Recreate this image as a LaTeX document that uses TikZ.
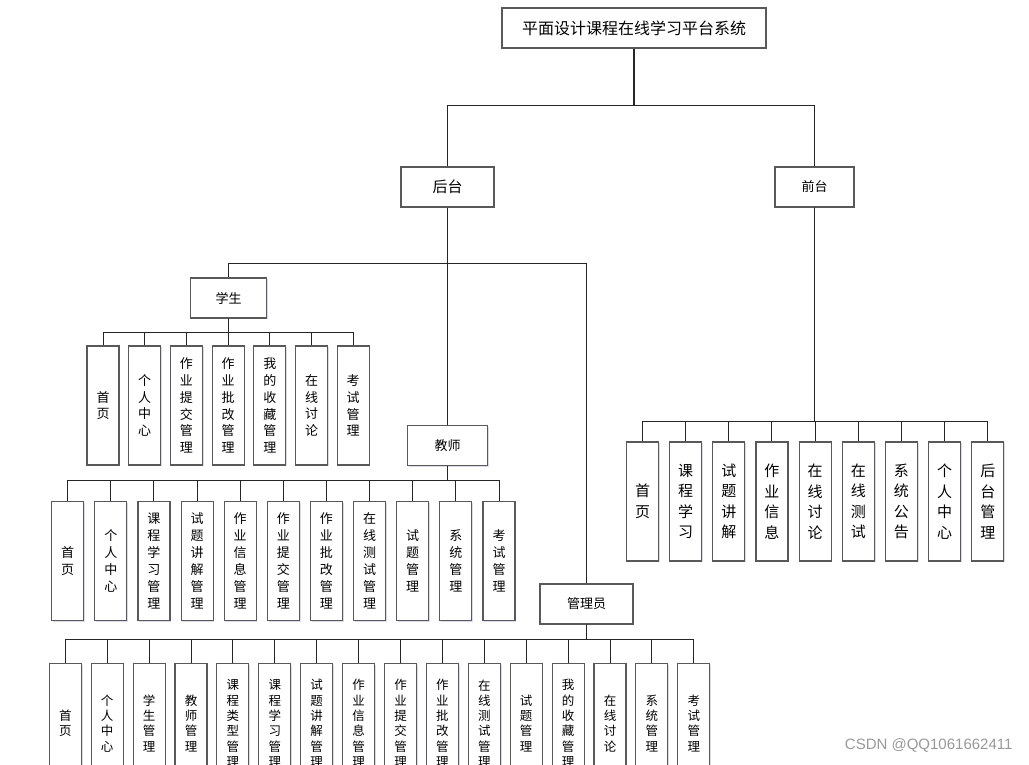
\documentclass[tikz,border=0pt]{standalone}
\usepackage{fontspec}
\setmainfont{Noto Sans CJK SC}
\newfontfamily\wmfont{Liberation Sans}
\usepackage{tikz}
\usetikzlibrary{shadows, positioning}

\begin{document}
\begin{tikzpicture}[
  x=1pt, y=-1pt,
  bx/.style={draw=black!65, line width=1.1pt, fill=white, align=center,
             inner sep=0pt,
             drop shadow={shadow xshift=1.2pt, shadow yshift=-1.2pt,
                          fill=blue!40!gray, opacity=.2}},
  hd/.style={bx, minimum height=40pt, font=\fontsize{13}{15}\selectfont},
  leaf/.style={bx, minimum width=32pt, minimum height=119pt},
  ln/.style={draw=black!85, line width=1pt},
  trunk/.style={ln, line width=1.7pt}
]
  \useasboundingbox (0,0) rectangle (1029,764);
  \clip (0,0) rectangle (1029,764);

  % upper levels
  \node[hd, minimum width=264pt, font=\fontsize{16}{18}\selectfont] (root) at (634,28) {平面设计课程在线学习平台系统};
  \node[hd, minimum width=93pt, font=\fontsize{15}{17}\selectfont] (htai) at (447.5,187) {后台};
  \node[hd, minimum width=79pt] (qtai) at (814.5,187) {前台};
  \node[hd, minimum width=76pt] (stu) at (228.7,298) {学生};
  \node[hd, minimum width=80pt] (tea) at (447.5,445.5) {教师};
  \node[hd, minimum width=93pt] (adm) at (586.5,604) {管理员};

  \draw[ln] (root.south) -- ++(0,57) -| (htai.north);
  \draw[ln] (root.south) -- ++(0,57) -| (qtai.north);
  \draw[trunk] (root.south) -- ++(0,57);
  \draw[ln] (htai.south) -- (tea.north);
  \draw[ln] (htai.south) -- ++(0,56) -| (stu.north);
  \draw[ln] (htai.south) -- ++(0,56) -| (adm.north);

  % student
  \foreach \txt [count=\i] in {首\\页, 个\\人\\中\\心, 作\\业\\提\\交\\管\\理,
      作\\业\\批\\改\\管\\理, 我\\的\\收\\藏\\管\\理, 在\\线\\讨\\论, 考\\试\\管\\理}{
    \node[leaf, font=\fontsize{13}{16.8}\selectfont] (s\i) at ({103+41.7*(\i-1)},405.5) {\txt};
    \draw[ln] (stu.south) -- ++(0,14) -| (s\i.north);
  }

  % teacher
  \foreach \txt [count=\i] in {首\\页, 个\\人\\中\\心, 课\\程\\学\\习\\管\\理,
      试\\题\\讲\\解\\管\\理, 作\\业\\信\\息\\管\\理, 作\\业\\提\\交\\管\\理,
      作\\业\\批\\改\\管\\理, 在\\线\\测\\试\\管\\理, 试\\题\\管\\理,
      系\\统\\管\\理, 考\\试\\管\\理}{
    \node[leaf, font=\fontsize{13}{17}\selectfont] (t\i) at ({67.7+43.13*(\i-1)},561.3) {\txt};
    \draw[ln] (tea.south) -- ++(0,14.7) -| (t\i.north);
  }

  % administrator
  \foreach \txt [count=\i] in {首\\页, 个\\人\\中\\心, 学\\生\\管\\理, 教\\师\\管\\理,
      课\\程\\类\\型\\管\\理, 课\\程\\学\\习\\管\\理, 试\\题\\讲\\解\\管\\理,
      作\\业\\信\\息\\管\\理, 作\\业\\提\\交\\管\\理, 作\\业\\批\\改\\管\\理,
      在\\线\\测\\试\\管\\理, 试\\题\\管\\理, 我\\的\\收\\藏\\管\\理,
      在\\线\\讨\\论, 系\\统\\管\\理, 考\\试\\管\\理}{
    \node[leaf, font=\fontsize{12.5}{15.3}\selectfont] (a\i) at ({65.3+41.9*(\i-1)},723.3) {\txt};
    \draw[ln] (adm.south) -- ++(0,15.3) -| (a\i.north);
  }
  \draw[trunk] (adm.south) -- ++(0,15.3);

  % front end
  \foreach \txt [count=\i] in {首\\页, 课\\程\\学\\习, 试\\题\\讲\\解, 作\\业\\信\\息,
      在\\线\\讨\\论, 在\\线\\测\\试, 系\\统\\公\\告, 个\\人\\中\\心, 后\\台\\管\\理}{
    \node[leaf, font=\fontsize{15}{20.5}\selectfont] (f\i) at ({642.5+43.16*(\i-1)},501.5) {\txt};
    \draw[ln] (qtai.south) -- ++(0,213.7) -| (f\i.north);
  }
  \draw[trunk] (qtai.south) -- ++(0,213.7);

  \node[text=black!40, font=\wmfont\fontsize{15}{17}\selectfont, anchor=east] (wm) at (1016,745) {CSDN @QQ1061662411};
\end{tikzpicture}
\end{document}
